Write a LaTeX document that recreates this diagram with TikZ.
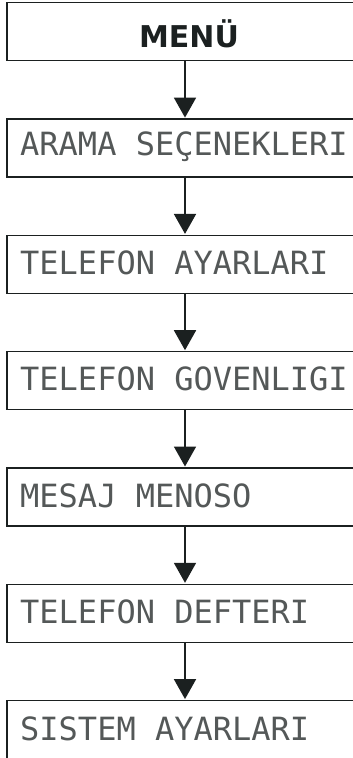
\documentclass[tikz,border=0pt]{standalone}
\usepackage{fontspec}
\newfontfamily\menufont{DejaVu Sans}[UprightFont=* Bold]
\newfontfamily\dotfont{DejaVu Sans Mono}
\usetikzlibrary{arrows.meta}
\definecolor{ink}{HTML}{1B2020}
\begin{document}
\begin{tikzpicture}[x=1pt,y=-1pt,
  box/.style={draw=ink,line width=1.4pt,minimum width=356pt,minimum height=58pt,inner sep=0pt,anchor=north},
  lbl/.style={anchor=base west,inner sep=0pt,text=ink!75,font=\dotfont\fontsize{32}{32}\selectfont},
  conn/.style={draw=ink,line width=1.8pt,-{Triangle[width=22pt,length=20pt]},shorten >=0.7pt}]
\useasboundingbox (0,0) rectangle (353,758);
\clip (0,0) rectangle (353,758);
\node[box] (b0) at (185,2) {};
\node[box] (b1) at (185,118.3) {};
\node[box] (b2) at (185,234.6) {};
\node[box] (b3) at (185,350.9) {};
\node[box] (b4) at (185,467.2) {};
\node[box] (b5) at (185,583.5) {};
\node[box] (b6) at (185,699.8) {};
\node[anchor=base,inner sep=0pt,text=ink,font=\menufont\fontsize{30}{30}\selectfont] (t0) at (189,47) {MENÜ};
\node[lbl] (t1) at (20,155.3) {ARAMA SEÇENEKLERI};
\node[lbl] (t2) at (20,274.6) {TELEFON AYARLARI};
\node[lbl] (t3) at (20,390.9) {TELEFON GOVENLIGI};
\node[lbl] (t4) at (20,507.2) {MESAJ MENOSO};
\node[lbl] (t5) at (20,623.5) {TELEFON DEFTERI};
\node[lbl] (t6) at (20,740.8) {SISTEM AYARLARI};
\draw[conn] (b0.south) -- (b1.north);
\draw[conn] (b1.south) -- (b2.north);
\draw[conn] (b2.south) -- (b3.north);
\draw[conn] (b3.south) -- (b4.north);
\draw[conn] (b4.south) -- (b5.north);
\draw[conn] (b5.south) -- (b6.north);
\end{tikzpicture}
\end{document}
